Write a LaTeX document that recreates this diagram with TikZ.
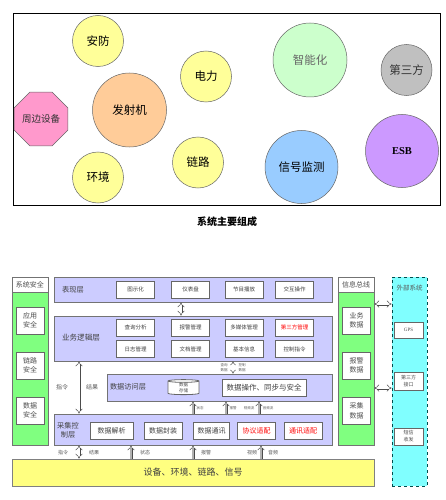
\documentclass[tikz,border=0pt]{standalone}
\usepackage{fontspec}
\setmainfont{Noto Sans CJK SC}
\newfontfamily\serifEN{Liberation Serif}
\usetikzlibrary{shapes.geometric,arrows.meta}
\definecolor{cyel}{HTML}{FFFF99}
\definecolor{corange}{HTML}{FFCC99}
\definecolor{cgreenl}{HTML}{CCFFCC}
\definecolor{cgray}{HTML}{C0C0C0}
\definecolor{cpink}{HTML}{FF99CC}
\definecolor{cblue}{HTML}{99CCFF}
\definecolor{cpur}{HTML}{CC99FF}
\definecolor{lav}{HTML}{CCCCFF}
\definecolor{gbus}{HTML}{80FF80}
\definecolor{cext}{HTML}{80FFFF}
\definecolor{barY}{HTML}{FFFF80}
\begin{document}
\begin{tikzpicture}[x=1pt,y=-1pt,
  circ/.style={circle, draw=black!60, line width=0.5pt, inner sep=0pt, font=\fontsize{11.5}{13}\selectfont},
  layer/.style={rectangle, fill=lav, draw=black!55, line width=0.9pt, inner sep=0pt},
  subbox/.style={rectangle, fill=white, draw=black!60, line width=0.9pt, inner sep=0pt, minimum height=17pt, minimum width=38pt, text=black!75, font=\fontsize{5.5}{6.5}\selectfont},
  secbox/.style={rectangle, fill=white, draw=black!60, line width=0.8pt, inner sep=0pt, minimum width=28pt, minimum height=27pt, align=center, text=black!70, font=\fontsize{7}{9.5}\selectfont},
  extbox/.style={rectangle, fill=white, draw=black!60, line width=0.8pt, inner sep=0pt, minimum width=29pt, align=center, text=black!70, font=\fontsize{5}{7}\selectfont},
  lbl/.style={inner sep=0pt, text=black!75, font=\fontsize{7.2}{9}\selectfont, align=center},
  tinylbl/.style={inner sep=0pt, text=black!65, font=\fontsize{3.5}{4.5}\selectfont, align=center},
  smalllbl/.style={inner sep=0pt, text=black!65, font=\fontsize{5}{6}\selectfont},
  darrow/.style={draw=black!70, line width=0.5pt, double=white, double distance=2pt, {Implies}-{Implies}},
  uparrow/.style={draw=black!70, line width=0.5pt, double=gray!60, double distance=2pt, -{Implies}},
  colhead/.style={rectangle, fill=white, draw=black!55, line width=0.8pt, inner sep=0pt, minimum width=36pt, minimum height=15pt, text=black!70, font=\fontsize{7}{8}\selectfont},
  colbody/.style={rectangle, fill=gbus, draw=black!55, line width=0.8pt, inner sep=0pt, minimum width=36pt, minimum height=153pt}
]
\useasboundingbox (0,0) rectangle (446,500);

% ---------- top section ----------
\node[draw=black, line width=0.6pt, minimum width=427pt, minimum height=192pt, inner sep=0pt] (frame) at (226.5,109) {};
\node[circ, fill=cyel, minimum size=51pt] (anfang) at (98,41) {安防};
\node[circ, fill=corange, minimum size=74pt] (fasheji) at (129.5,110) {发射机};
\node[circ, fill=cyel, minimum size=51pt] (dianli) at (206,76.5) {电力};
\node[circ, fill=cgreenl, minimum size=74pt, text=black!60] (zhineng) at (310,60) {智能化};
\node[circ, fill=cgray, minimum size=51pt, text=black!80] (dsf) at (406.5,70) {第三方};
\node[regular polygon, regular polygon sides=8, draw=black!60, line width=0.5pt, fill=cpink, minimum size=55pt, inner sep=0pt, text=black!80, font=\fontsize{9.5}{11}\selectfont] (zhoubian) at (41,119) {周边设备};
\node[circ, fill=cyel, minimum size=51pt] (huanjing) at (98,177.5) {环境};
\node[circ, fill=cyel, minimum size=51pt] (lianlu) at (198,162.5) {链路};
\node[circ, fill=cblue, minimum size=73pt] (xinhao) at (301.5,167) {信号监测};
\node[circ, fill=cpur, minimum size=73pt, font=\serifEN\bfseries\fontsize{10.5}{12}\selectfont] (esb) at (402,151) {ESB};
\node[inner sep=0pt, font=\bfseries\fontsize{10}{12}\selectfont] (cap) at (227,222) {系统主要组成};

% ---------- left column: 系统安全 ----------
\node[colbody] (secB) at (30,368.5) {};
\node[colhead] (secH) at (30,284.5) {系统安全};
\node[secbox] (s1) at (30,320.5) {应用\\安全};
\node[secbox] (s2) at (30,365.5) {链路\\安全};
\node[secbox] (s3) at (30,410.5) {数据\\安全};

% ---------- 表现层 ----------
\node[layer, minimum width=278pt, minimum height=25pt] (bx) at (193,289.5) {};
\node[lbl] (bxl) at (73,290) {表现层};
\node[subbox] (b1) at (135.5,289.5) {图示化};
\node[subbox] (b2) at (190.5,289.5) {仪表盘};
\node[subbox] (b3) at (244,289.5) {节目播放};
\node[subbox] (b4) at (294.5,289.5) {交互操作};

% ---------- 业务逻辑层 ----------
\node[layer, minimum width=278pt, minimum height=45pt] (bl) at (193,338.5) {};
\node[lbl, font=\fontsize{7.6}{9}\selectfont] (bll) at (81,338) {业务逻辑层};
\node[subbox] (l1) at (135.5,327.5) {查询分析};
\node[subbox] (l2) at (190.5,327.5) {报警管理};
\node[subbox] (l3) at (244,327.5) {多媒体管理};
\node[subbox, text=red] (l4) at (294.5,327.5) {第三方管理};
\node[subbox] (l5) at (135.5,349) {日志管理};
\node[subbox] (l6) at (190.5,349) {文档管理};
\node[subbox] (l7) at (244,349) {基本信息};
\node[subbox] (l8) at (294.5,349) {控制指令};

% ---------- 数据访问层 ----------
\node[layer, minimum width=225pt, minimum height=27pt] (da) at (219.5,387.5) {};
\node[lbl] (dal) at (128,387) {数据访问层};
\node[cylinder, shape border rotate=90, aspect=0.3, draw=black!60, line width=0.8pt, fill=white, minimum width=31pt, minimum height=15pt, inner sep=0pt, text=black!70, align=center, font=\fontsize{4.5}{5.5}\selectfont] (store) at (183.5,388) {数据\\存储};
\node[subbox, minimum width=84pt, font=\fontsize{7.5}{9}\selectfont] (dop) at (264,387.5) {数据操作、同步与安全};

% ---------- 采集控制层 ----------
\node[layer, minimum width=278pt, minimum height=31pt] (cj) at (193,429.5) {};
\node[lbl] (cjl) at (68,430) {采集控\\制层};
\node[subbox, minimum width=43pt, font=\fontsize{7}{8}\selectfont] (c1) at (111.5,430.5) {数据解析};
\node[subbox, font=\fontsize{7}{8}\selectfont] (c2) at (163,430.5) {数据封装};
\node[subbox, minimum width=36pt, font=\fontsize{7}{8}\selectfont] (c3) at (211.5,430.5) {数据通讯};
\node[subbox, font=\fontsize{7}{8}\selectfont, text=red] (c4) at (256.5,430.5) {协议适配};
\node[subbox, font=\fontsize{7}{8}\selectfont, text=red] (c5) at (303,430.5) {通讯适配};

% ---------- bottom bar ----------
\node[rectangle, fill=barY, draw=black!50, line width=0.8pt, minimum width=362pt, minimum height=27pt, inner sep=0pt, text=black!75, font=\fontsize{9}{10}\selectfont] (bar) at (193,472.5) {设备、环境、链路、信号};

% ---------- 信息总线 ----------
\node[colbody] (busB) at (356,368.5) {};
\node[colhead] (busH) at (356,284.5) {信息总线};
\node[secbox] (d1) at (356.5,320.5) {业务\\数据};
\node[secbox] (d2) at (356.5,365.5) {报警\\数据};
\node[secbox] (d3) at (356.5,411) {采集\\数据};

% ---------- 外部系统 ----------
\node[rectangle, fill=cext, draw=teal!60!black, dashed, line width=0.9pt, minimum width=35pt, minimum height=209pt, inner sep=0pt] (ext) at (409.5,381.5) {};
\node[inner sep=0pt, text=black!65, font=\fontsize{6.5}{8}\selectfont] (extl) at (409.5,288) {外部系统};
\node[extbox, minimum height=16pt, font=\serifEN\fontsize{5}{6}\selectfont] (e1) at (408.5,330) {GPS};
\node[extbox, minimum height=18pt] (e2) at (408.5,381) {第三方\\接口};
\node[extbox, minimum height=17pt] (e3) at (408.5,436.5) {短信\\收发};

% ---------- connector x positions ----------
\coordinate (xa) at (181,0);
\coordinate (xb) at (79,0);
\coordinate (xc) at (233,0);
\coordinate (xd) at (193,0);
\coordinate (xe) at (226,0);
\coordinate (xf) at (259,0);
\coordinate (xg) at (131,0);
\coordinate (xh) at (261,0);
\coordinate (ya) at (0,304);
\coordinate (yb) at (0,388);

% arrows
\draw[darrow] (bx.south -| xa) -- (bl.north -| xa);
\draw[darrow] (bl.south -| xb) -- (cj.north -| xb);
\node[smalllbl, font=\fontsize{6}{7}\selectfont] (t1) at (62,387) {指令};
\node[smalllbl, font=\fontsize{6}{7}\selectfont] (t2) at (92,387) {结果};
\draw[darrow, double distance=1.4pt] (bl.south -| xc) -- (da.north -| xc);
\node[tinylbl] (t3) at (224,367.5) {查询\\数据};
\node[tinylbl] (t4) at (242,367.5) {控制\\数据};
\draw[uparrow] (cj.north -| xd) -- (da.south -| xd);
\draw[uparrow] (cj.north -| xe) -- (da.south -| xe);
\draw[uparrow] (cj.north -| xf) -- (da.south -| xf);
\node[tinylbl] (t5) at (200,408) {状态};
\node[tinylbl] (t6) at (233,408) {报警};
\node[tinylbl] (t7) at (249,408) {视频流};
\node[tinylbl] (t8) at (268,408) {音频流};

\draw[darrow] (cj.south -| xb) -- (bar.north -| xb);
\draw[uparrow] (bar.north -| xg) -- (cj.south -| xg);
\draw[uparrow] (bar.north -| xd) -- (cj.south -| xd);
\draw[uparrow] (bar.north -| xh) -- (cj.south -| xh);
\node[smalllbl] (u1) at (63,453) {指令};
\node[smalllbl] (u2) at (94,453) {结果};
\node[smalllbl] (u3) at (145,453) {状态};
\node[smalllbl] (u4) at (206,453) {报警};
\node[smalllbl] (u5) at (252,453) {视频};
\node[smalllbl] (u6) at (273,453) {音频};

\draw[darrow] (busB.east |- ya) -- (ext.west |- ya);
\draw[darrow] (busB.east |- yb) -- (ext.west |- yb);
\end{tikzpicture}
\end{document}
